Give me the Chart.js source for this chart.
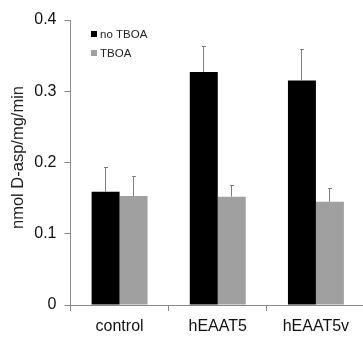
<!DOCTYPE html>
<html>
<head>
<meta charset="utf-8">
<script src="https://cdn.jsdelivr.net/npm/chart.js@4/dist/chart.umd.min.js"></script>
<style>
html,body{margin:0;padding:0;background:#fff;overflow:hidden;width:363px;height:339px;}
#wrap{position:absolute;left:0;top:0;width:366px;height:339px;}
</style>
</head>
<body>
<div id="wrap"><canvas id="c" width="366" height="339"></canvas></div>
<script>
const categories = ["control", "hEAAT5", "hEAAT5v"];
const noTboa = [0.159, 0.327, 0.315];
const noTboaErr = [0.034, 0.036, 0.045];
const tboa = [0.153, 0.152, 0.145];
const tboaErr = [0.028, 0.016, 0.019];
const yTicks = [0, 0.1, 0.2, 0.3, 0.4];
const yTitle = "nmol D-asp/mg/min";
const seriesNames = ["no TBOA", "TBOA"];

const FONT = "'Liberation Sans', Arial, sans-serif";

const errorBars = {
  id: 'errorBars',
  afterDatasetsDraw(chart) {
    const ctx = chart.ctx;
    const ys = chart.scales.y;
    ctx.save();
    ctx.strokeStyle = '#7f7f7f';
    ctx.lineWidth = 1;
    chart.data.datasets.forEach((ds, di) => {
      const meta = chart.getDatasetMeta(di);
      meta.data.forEach((bar, i) => {
        const v = ds.data[i], e = ds.errors[i];
        const x = Math.round(bar.x) - 0.5;
        const y0 = ys.getPixelForValue(v);
        const y1 = Math.round(ys.getPixelForValue(v + e)) + 0.5;
        ctx.beginPath();
        ctx.moveTo(x, y0);
        ctx.lineTo(x, y1);
        ctx.moveTo(x - 1.5, y1);
        ctx.lineTo(x + 2.5, y1);
        ctx.stroke();
      });
    });
    ctx.restore();
  }
};

const extras = {
  id: 'extras',
  afterDraw(chart) {
    const ctx = chart.ctx;
    ctx.save();
    ctx.fillStyle = '#222';
    ctx.font = "16.5px " + FONT;
    ctx.translate(23, 157.5);
    ctx.rotate(-Math.PI / 2);
    ctx.textAlign = 'center';
    ctx.textBaseline = 'alphabetic';
    ctx.fillText(yTitle, 0, 0);
    ctx.restore();
    ctx.save();
    ctx.font = "11.5px " + FONT;
    ctx.textBaseline = 'middle';
    ctx.textAlign = 'left';
    const rows = [34, 53];
    chart.data.datasets.forEach((ds, i) => {
      ctx.fillStyle = ds.backgroundColor;
      ctx.fillRect(91, rows[i] - 3, 6, 6);
      ctx.fillStyle = '#222';
      ctx.fillText(ds.label, 100, rows[i] + 0.5);
    });
    ctx.restore();
  }
};

new Chart(document.getElementById('c'), {
  type: 'bar',
  data: {
    labels: categories,
    datasets: [
      { label: seriesNames[0], data: noTboa, errors: noTboaErr, backgroundColor: '#000000', borderWidth: 0 },
      { label: seriesNames[1], data: tboa, errors: tboaErr, backgroundColor: '#a0a0a0', borderWidth: 0 }
    ]
  },
  options: {
    responsive: false,
    devicePixelRatio: 1,
    animation: false,
    layout: { padding: { top: 20, right: 1, left: 0, bottom: 0 } },
    plugins: { legend: { display: false }, tooltip: { enabled: false } },
    datasets: { bar: { categoryPercentage: 0.57, barPercentage: 1.0 } },
    scales: {
      x: {
        offset: true,
        grid: { offset: true, drawOnChartArea: false, tickLength: 6, color: '#888' },
        border: { color: '#888', width: 1 },
        ticks: { color: '#111', font: { family: FONT, size: 16 }, padding: 6 },
        afterFit(s) { s.height = 34; }
      },
      y: {
        min: 0, max: 0.4,
        afterBuildTicks(s) { s.ticks = yTicks.map(v => ({ value: v })); },
        grid: { drawOnChartArea: false, tickLength: 6, color: '#888' },
        border: { color: '#888', width: 1 },
        ticks: {
          color: '#111', font: { family: FONT, size: 16 }, padding: 8,
          callback: v => String(v)
        },
        afterFit(s) { s.width = 70.5; }
      }
    }
  },
  plugins: [errorBars, extras]
});
</script>
</body>
</html>
